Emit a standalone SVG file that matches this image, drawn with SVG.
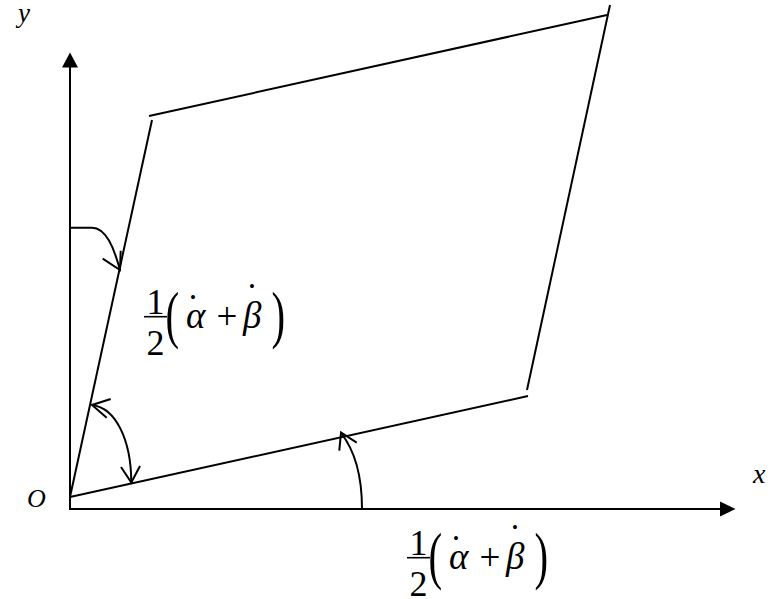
<svg xmlns="http://www.w3.org/2000/svg" width="778" height="599" viewBox="0 0 778 599">
<style>
.ln{stroke:#000;stroke-width:2;fill:none;stroke-linecap:butt}
.ah{fill:#000;stroke:none}
.bar{stroke:#000;stroke-width:1.6}
.it{font-family:"Liberation Serif","Times New Roman",serif;font-style:italic;fill:#000}
.rm{font-family:"Liberation Serif","Times New Roman",serif;fill:#000}
</style>
<rect width="778" height="599" fill="#fff"/>
<g id="axes">
<line class="ln" x1="70" y1="510" x2="70" y2="65"/>
<polygon class="ah" points="70,52.5 62,67.5 78,67.5"/>
<line class="ln" x1="69" y1="509" x2="722" y2="509"/>
<polygon class="ah" points="735.5,509 720,501.5 720,516.5"/>
<text class="it" x="18" y="22" font-size="27">y</text>
<text class="it" x="753" y="483" font-size="28">x</text>
<text class="it" x="27" y="507" font-size="26">O</text>
</g>
<g id="parallelogram">
<line class="ln" x1="70" y1="497" x2="152" y2="120"/>
<line class="ln" x1="149" y1="116" x2="607" y2="15"/>
<line class="ln" x1="610" y1="5" x2="527" y2="390"/>
<line class="ln" x1="70" y1="497" x2="528" y2="396"/>
</g>
<g id="connectors">
<path class="ln" d="M71,227.7 L92,227.7 C106,227.7 114,248 120,270"/>
<polyline class="ln" points="102.7,258.7 120,270 120.7,250.7"/>
<path class="ln" d="M92,405 C116,408 131,440 131.3,482"/>
<polyline class="ln" points="110.7,399 92,405 106.7,417.7"/>
<polyline class="ln" points="121,467 131.3,482.5 140,466"/>
<path class="ln" d="M362,509 C362,480 356,452 341,433"/>
<polyline class="ln" points="339.3,450.7 341,432.5 356.7,442.7"/>
</g>
<g id="label-1">
<text class="rm" x="155.5" y="314" font-size="36" text-anchor="middle">1</text>
<line class="bar" x1="144" y1="316.7" x2="167" y2="316.7"/>
<text class="rm" x="155.5" y="355" font-size="36" text-anchor="middle">2</text>
<text class="rm" font-size="63" transform="translate(165.5,335.7) scale(0.65,1)">(</text>
<text class="it" x="186" y="328" font-size="37">α</text>
<text class="rm" x="193" y="320" font-size="37" text-anchor="middle">˙</text>
<text class="rm" x="227" y="329" font-size="37" text-anchor="middle">+</text>
<text class="it" x="243" y="328" font-size="37">β</text>
<text class="rm" x="252" y="309" font-size="37" text-anchor="middle">˙</text>
<text class="rm" font-size="63" transform="translate(271.5,335.7) scale(0.65,1)">)</text>
</g>
<g id="label-2" transform="translate(263,241)">
<text class="rm" x="155.5" y="314" font-size="36" text-anchor="middle">1</text>
<line class="bar" x1="144" y1="316.7" x2="167" y2="316.7"/>
<text class="rm" x="155.5" y="355" font-size="36" text-anchor="middle">2</text>
<text class="rm" font-size="63" transform="translate(165.5,335.7) scale(0.65,1)">(</text>
<text class="it" x="186" y="328" font-size="37">α</text>
<text class="rm" x="193" y="320" font-size="37" text-anchor="middle">˙</text>
<text class="rm" x="227" y="329" font-size="37" text-anchor="middle">+</text>
<text class="it" x="243" y="328" font-size="37">β</text>
<text class="rm" x="252" y="309" font-size="37" text-anchor="middle">˙</text>
<text class="rm" font-size="63" transform="translate(271.5,335.7) scale(0.65,1)">)</text>
</g>
</svg>
